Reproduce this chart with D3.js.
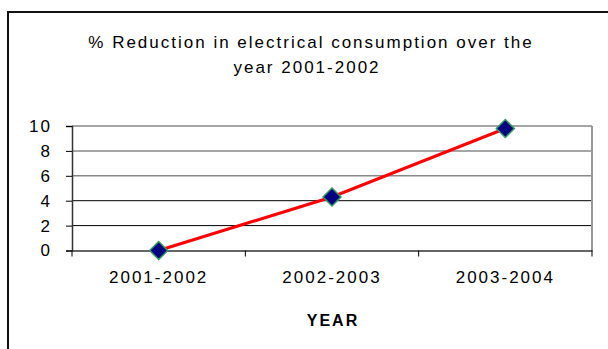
<!DOCTYPE html>
<html>
<head>
<meta charset="utf-8">
<script src="https://cdn.jsdelivr.net/npm/d3@7"></script>
<style>
  body { margin: 0; background: #fff; }
  text { font-family: "Liberation Sans", Arial, sans-serif; fill: #000; }
  .title { font-size: 17px; letter-spacing: 2px; }
  .tick text { font-size: 17px; letter-spacing: 2px; }
  .xlabel { font-size: 16px; font-weight: bold; letter-spacing: 2px; }
</style>
</head>
<body>
<svg id="chart" width="608" height="349"></svg>
<script>
var categories = ['2001-2002', '2002-2003', '2003-2004'];
var reduction = [0, 4.3, 9.8];
var yTicks = [0, 2, 4, 6, 8, 10];

var svg = d3.select('#chart');

// outer chart border, runs off the right and bottom edge
svg.append('rect')
  .attr('x', 8).attr('y', 12)
  .attr('width', 640).attr('height', 380)
  .style('fill', 'none')
  .style('stroke', '#111')
  .style('stroke-width', 2);

var plotLeft = 72, plotRight = 592, plotTop = 126, plotBottom = 250.5;

var x = d3.scaleBand().domain(categories).range([plotLeft, plotRight]);
var y = d3.scaleLinear().domain([0, 10]).range([plotBottom, plotTop]);

// title
var title = svg.append('text').attr('class', 'title').attr('text-anchor', 'middle');
title.append('tspan').attr('x', 311).attr('y', 48).text('% Reduction in electrical consumption over the');
title.append('tspan').attr('x', 307).attr('y', 73).text('year 2001-2002');

// gridlines
svg.append('g').selectAll('line')
  .data(yTicks.filter(function(d) { return d > 0; }))
  .enter().append('line')
  .attr('x1', plotLeft).attr('x2', plotRight)
  .attr('y1', function(d) { return y(d); })
  .attr('y2', function(d) { return y(d); })
  .style('stroke', function(d) { return d >= 6 ? '#888' : '#000'; })
  .style('stroke-width', function(d) { return d >= 6 ? 1.5 : 1; });

// right edge of plot area
svg.append('line')
  .attr('x1', plotRight).attr('x2', plotRight)
  .attr('y1', plotTop).attr('y2', plotBottom)
  .style('stroke', '#999').style('stroke-width', 2);

// axes
var yAxis = svg.append('g')
  .attr('transform', 'translate(' + plotLeft + ',0)')
  .call(d3.axisLeft(y).tickValues(yTicks).tickSize(6).tickPadding(14));

var xAxis = svg.append('g')
  .attr('transform', 'translate(0,' + plotBottom + ')')
  .call(d3.axisBottom(x).tickSize(0).tickPadding(20));

// category boundary ticks
xAxis.selectAll('.sep')
  .data(x.domain().map(function(d) { return x(d); }).concat([plotRight]))
  .enter().append('line')
  .attr('class', 'sep')
  .attr('x1', function(d) { return d; }).attr('x2', function(d) { return d; })
  .attr('y1', 0).attr('y2', 6)
  .style('stroke', '#000');

svg.selectAll('.domain').style('stroke', '#333').style('stroke-width', 1.5);
yAxis.selectAll('.tick line').style('stroke', '#000');
svg.selectAll('.tick text').style('fill', '#000');

svg.append('text')
  .attr('class', 'xlabel')
  .attr('x', (plotLeft + plotRight) / 2 + 1)
  .attr('y', 326)
  .attr('text-anchor', 'middle')
  .text('YEAR');

// series
var line = d3.line()
  .x(function(d, i) { return x(categories[i]) + x.bandwidth() / 2; })
  .y(function(d) { return y(d); });

svg.append('path')
  .datum(reduction)
  .attr('d', line)
  .style('fill', 'none')
  .style('stroke', '#ff0000')
  .style('stroke-width', 3);

svg.selectAll('.marker')
  .data(reduction)
  .enter().append('path')
  .attr('class', 'marker')
  .attr('transform', function(d, i) {
    return 'translate(' + (x(categories[i]) + x.bandwidth() / 2) + ',' + y(d) + ')';
  })
  .attr('d', 'M0,-9L9,0L0,9L-9,0Z')
  .style('fill', '#000080')
  .style('stroke', '#339966')
  .style('stroke-width', 1.5);
</script>
</body>
</html>
